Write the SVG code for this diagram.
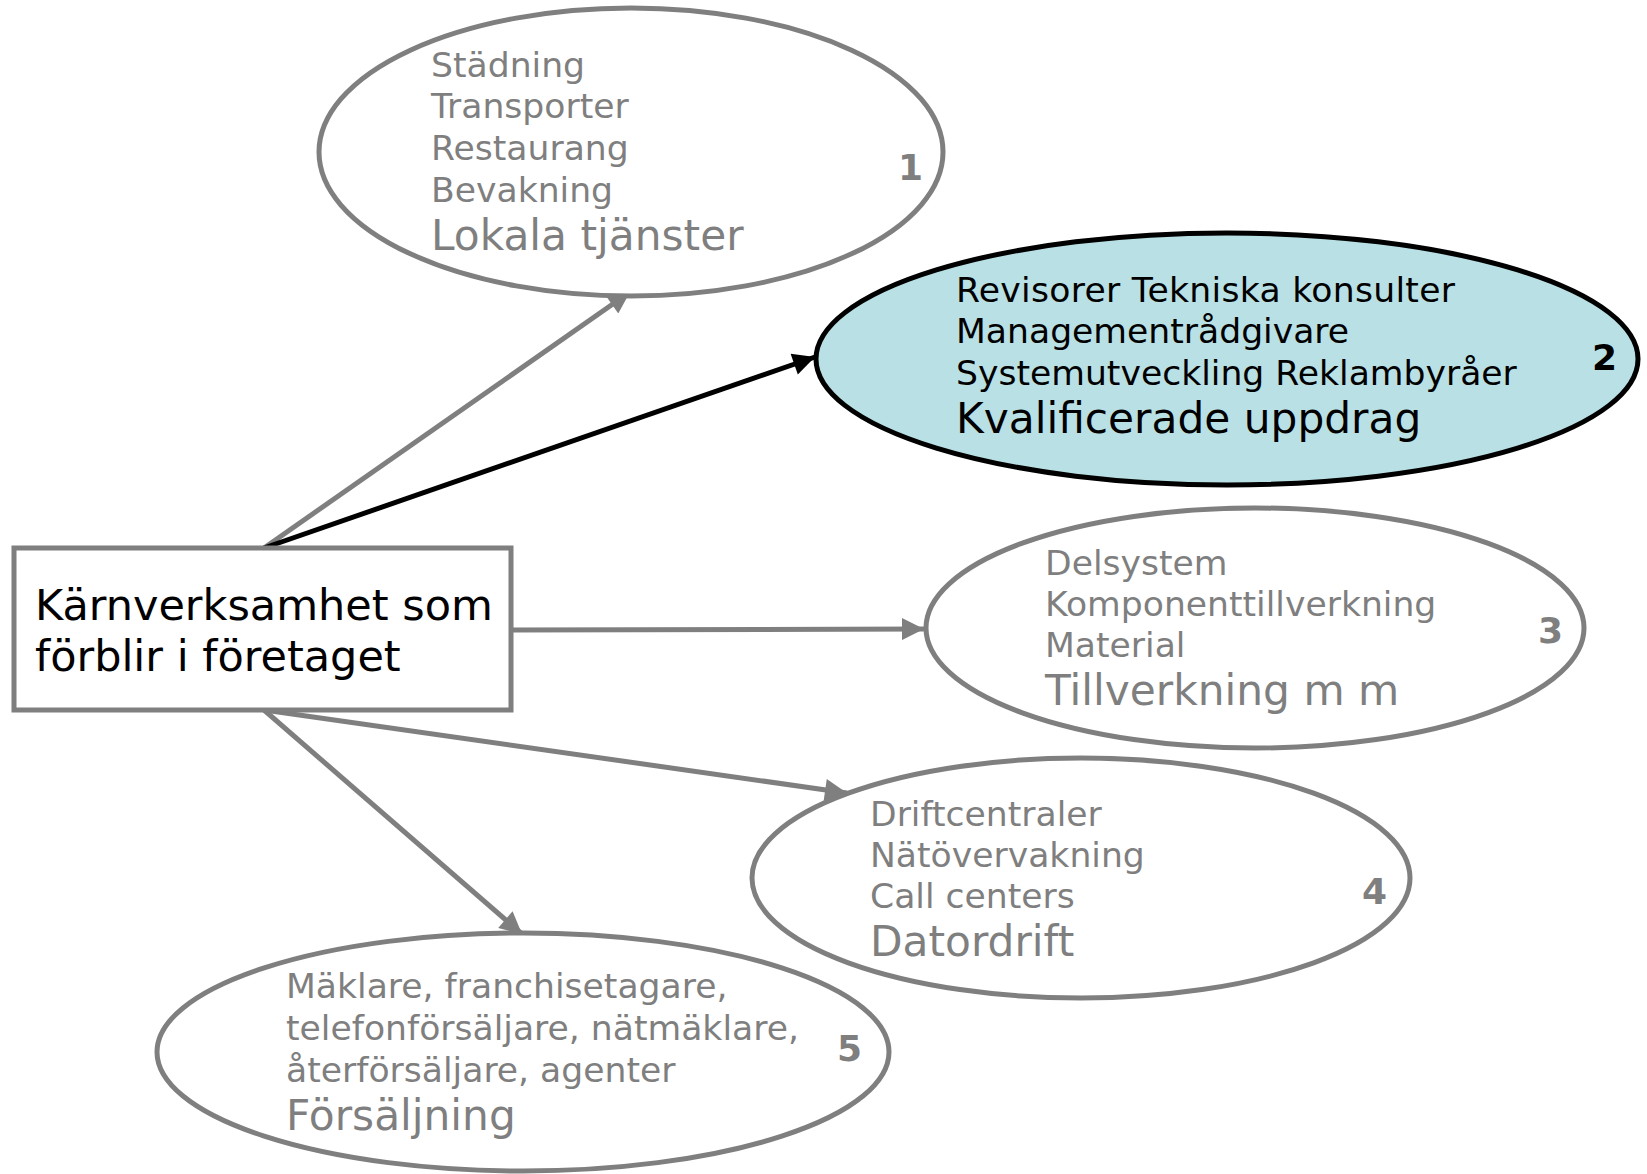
<svg xmlns="http://www.w3.org/2000/svg" width="1647" height="1174" viewBox="0 0 1647 1174">
<style>
.ell{fill:#ffffff;stroke:#7f7f7f;stroke-width:5}
.ell2{fill:#b9e0e4;stroke:#000000;stroke-width:5}
.box{fill:#ffffff;stroke:#7f7f7f;stroke-width:5}
.g{fill:#7f7f7f}
.k{fill:#000000}
.t{font-family:"DejaVu Sans",Verdana,sans-serif}
.s{font-size:34.6px}
.l{font-size:42.3px}
.b{font-size:43px}
.n{font-size:36px;font-weight:bold}
.c{stroke:#7f7f7f;stroke-width:5;fill:none}
.cb{stroke:#000000;stroke-width:5;fill:none}
</style>
<defs>
<marker id="ag" viewBox="0 0 10 10" refX="10" refY="5" markerWidth="5" markerHeight="4.4" orient="auto" markerUnits="strokeWidth"><path d="M0,0 L10,5 L0,10 z" fill="#7f7f7f"/></marker>
<marker id="ak" viewBox="0 0 10 10" refX="10" refY="5" markerWidth="5" markerHeight="4.4" orient="auto" markerUnits="strokeWidth"><path d="M0,0 L10,5 L0,10 z" fill="#000000"/></marker>
</defs>
<rect width="1647" height="1174" fill="#ffffff"/>
<g id="connectors">
<line class="c" x1="264" y1="548" x2="630" y2="292" marker-end="url(#ag)"/>
<line class="cb" x1="264" y1="548" x2="815" y2="357" marker-end="url(#ak)"/>
<line class="c" x1="511" y1="630" x2="924" y2="629" marker-end="url(#ag)"/>
<line class="c" x1="264" y1="710" x2="847" y2="793" marker-end="url(#ag)"/>
<line class="c" x1="264" y1="710" x2="522" y2="934" marker-end="url(#ag)"/>
</g>
<g id="node1">
<ellipse class="ell" cx="631" cy="152" rx="312" ry="144"/>
<g class="t g">
<text class="s" x="431" y="77">Städning</text>
<text class="s" x="431" y="118">Transporter</text>
<text class="s" x="431" y="160">Restaurang</text>
<text class="s" x="431" y="202">Bevakning</text>
<text class="l" x="431" y="250">Lokala tjänster</text>
<text class="n" x="898" y="180">1</text>
</g>
</g>
<g id="node2">
<ellipse class="ell2" cx="1227" cy="359" rx="411" ry="126"/>
<g class="t k">
<text class="s" x="956" y="302" textLength="499" lengthAdjust="spacing">Revisorer Tekniska konsulter</text>
<text class="s" x="956" y="343">Managementrådgivare</text>
<text class="s" x="956" y="385">Systemutveckling Reklambyråer</text>
<text class="l" x="956" y="433">Kvalificerade uppdrag</text>
<text class="n" x="1592" y="370">2</text>
</g>
</g>
<g id="node3">
<ellipse class="ell" cx="1255" cy="628" rx="329" ry="120"/>
<g class="t g">
<text class="s" x="1045" y="575">Delsystem</text>
<text class="s" x="1045" y="616">Komponenttillverkning</text>
<text class="s" x="1045" y="657">Material</text>
<text class="l" x="1045" y="705">Tillverkning m m</text>
<text class="n" x="1538" y="643">3</text>
</g>
</g>
<g id="node4">
<ellipse class="ell" cx="1081" cy="878" rx="329" ry="120"/>
<g class="t g">
<text class="s" x="870" y="826">Driftcentraler</text>
<text class="s" x="870" y="867">Nätövervakning</text>
<text class="s" x="870" y="908">Call centers</text>
<text class="l" x="870" y="956">Datordrift</text>
<text class="n" x="1362" y="904">4</text>
</g>
</g>
<g id="node5">
<ellipse class="ell" cx="523" cy="1052" rx="366" ry="119"/>
<g class="t g">
<text class="s" x="286" y="998">Mäklare, franchisetagare,</text>
<text class="s" x="286" y="1040">telefonförsäljare, nätmäklare,</text>
<text class="s" x="286" y="1082">återförsäljare, agenter</text>
<text class="l" x="286" y="1130">Försäljning</text>
<text class="n" x="837" y="1061">5</text>
</g>
</g>
<g id="core">
<rect class="box" x="14" y="548" width="497" height="162"/>
<g class="t k">
<text class="b" x="35" y="620">Kärnverksamhet som</text>
<text class="b" x="35" y="671">förblir i företaget</text>
</g>
</g>
</svg>
